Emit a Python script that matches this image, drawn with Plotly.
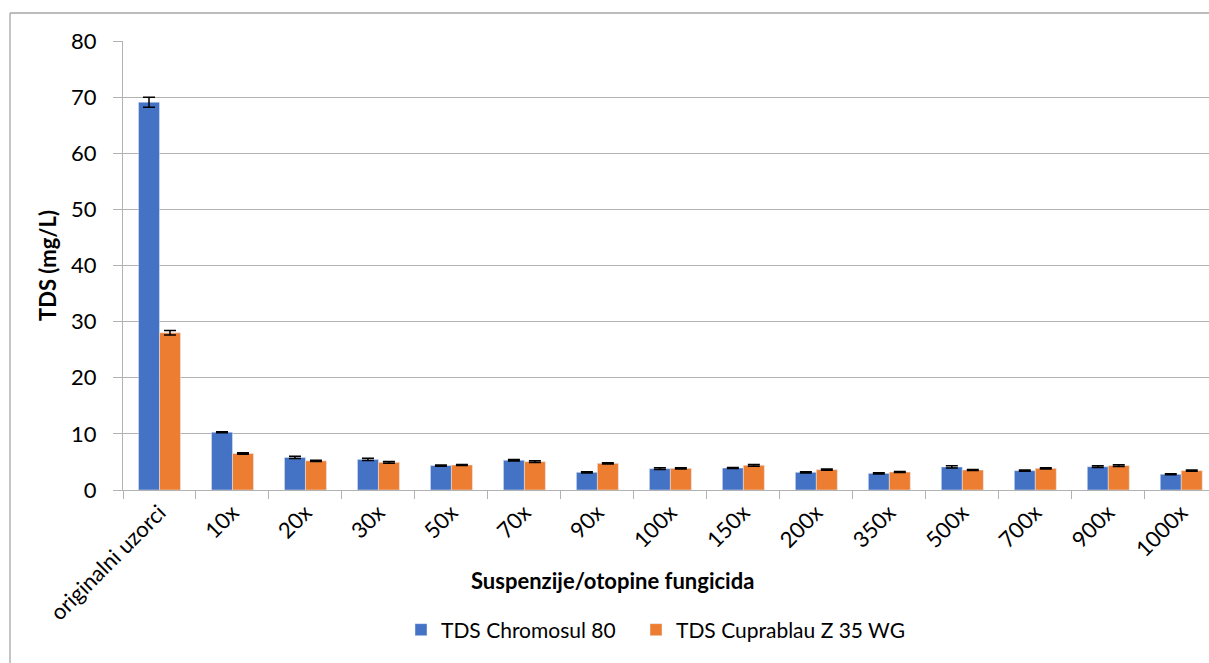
import plotly.graph_objects as go

categories = ["originalni uzorci", "10x", "20x", "30x", "50x", "70x", "90x", "100x",
              "150x", "200x", "350x", "500x", "700x", "900x", "1000x"]
chromosul = [69.1, 10.3, 5.8, 5.45, 4.35, 5.3, 3.15, 3.8, 3.92, 3.15, 2.96, 4.1, 3.45, 4.15, 2.8]
chromosul_err = [0.9, 0.1, 0.2, 0.2, 0.1, 0.15, 0.1, 0.15, 0.1, 0.1, 0.1, 0.2, 0.1, 0.15, 0.1]
cuprablau = [28.0, 6.5, 5.2, 4.93, 4.45, 5.05, 4.75, 3.86, 4.4, 3.63, 3.2, 3.56, 3.86, 4.35, 3.45]
cuprablau_err = [0.4, 0.15, 0.1, 0.15, 0.1, 0.15, 0.1, 0.1, 0.15, 0.1, 0.1, 0.1, 0.1, 0.15, 0.1]

FONT = "Lato, Calibri, Carlito, sans-serif"
GRID = "#B2B2B2"
FS = 22

fig = go.Figure()
fig.add_trace(go.Bar(
    x=categories, y=chromosul, name="TDS Chromosul 80",
    marker=dict(color="#4472C4"), legend="legend",
    error_y=dict(type="data", array=chromosul_err, color="black", thickness=1.5, width=6),
))
fig.add_trace(go.Bar(
    x=categories, y=cuprablau, name="TDS Cuprablau Z 35 WG",
    marker=dict(color="#ED7D31"), legend="legend2",
    error_y=dict(type="data", array=cuprablau_err, color="black", thickness=1.5, width=6),
))

L, R, T, B = 123, 1209, 41, 490
W, H = 1209, 663
pw, ph = R - L, B - T

def px(x):
    return (x - L) / pw

def py(y):
    return (B - y) / ph

leg_common = dict(orientation="h", xanchor="left", yanchor="middle", y=py(630),
                  font=dict(size=21), itemwidth=30, bgcolor="rgba(0,0,0,0)")

fig.update_layout(
    width=W, height=H,
    margin=dict(l=L, r=W - R, t=T, b=H - B),
    paper_bgcolor="white", plot_bgcolor="white",
    barmode="group", bargap=0.425, bargroupgap=0,
    font=dict(family=FONT, size=FS, color="black"),
    showlegend=True,
    legend=dict(x=px(401), **leg_common),
    legend2=dict(x=px(636), **leg_common),
    xaxis=dict(
        type="category", range=[-0.5, 14.38],
        tickangle=-45, tickson="boundaries", ticks="outside", ticklen=8,
        tickcolor=GRID, tickwidth=1.3,
        showline=True, linecolor=GRID, linewidth=1.3,
        tickfont=dict(size=FS), showgrid=False,
    ),
    yaxis=dict(
        range=[0, 80], dtick=10, showgrid=True, gridcolor=GRID, gridwidth=1.3,
        ticks="outside", ticklen=9, tickcolor=GRID, tickwidth=1.3,
        showline=True, linecolor=GRID, linewidth=1.3, ticklabelstandoff=12,
        tickfont=dict(size=FS), zeroline=False,
        title=dict(text="<b>TDS (mg/L)</b>", font=dict(size=FS), standoff=8),
    ),
    annotations=[dict(
        text="<b>Suspenzije/otopine fungicida</b>", xref="paper", yref="paper",
        x=px(612), y=py(580), xanchor="center", yanchor="middle",
        showarrow=False, font=dict(size=FS),
    )],
    shapes=[
        dict(type="line", xref="paper", yref="paper", x0=px(10), x1=px(10), y0=py(13), y1=py(663),
             line=dict(color="#A6A6A6", width=1.3)),
        dict(type="line", xref="paper", yref="paper", x0=px(10), x1=px(1209), y0=py(13), y1=py(13),
             line=dict(color="#A6A6A6", width=1.3)),
    ],
)

fig.write_html("out.html", config={"displayModeBar": False},
               post_script="document.body.style.margin='0';document.body.style.overflow='hidden';")
